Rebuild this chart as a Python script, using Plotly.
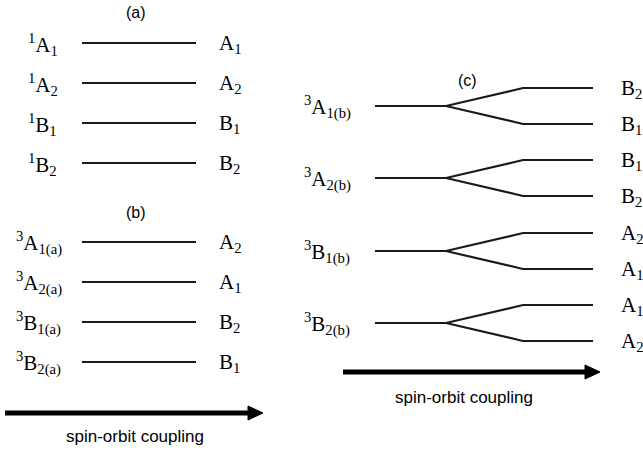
import plotly.graph_objects as go

# ---------------- data ----------------
panel_titles = ["(a)", "(b)", "(c)"]

a_left = ["<sup>1</sup>A<sub>1</sub>", "<sup>1</sup>A<sub>2</sub>",
          "<sup>1</sup>B<sub>1</sub>", "<sup>1</sup>B<sub>2</sub>"]
a_right = ["A<sub>1</sub>", "A<sub>2</sub>", "B<sub>1</sub>", "B<sub>2</sub>"]
a_levels = [43, 83, 123, 163]

b_left = ["<sup>3</sup>A<sub>1(a)</sub>", "<sup>3</sup>A<sub>2(a)</sub>",
          "<sup>3</sup>B<sub>1(a)</sub>", "<sup>3</sup>B<sub>2(a)</sub>"]
b_right = ["A<sub>2</sub>", "A<sub>1</sub>", "B<sub>2</sub>", "B<sub>1</sub>"]
b_levels = [242, 282, 322, 362]

c_left = ["<sup>3</sup>A<sub>1(b)</sub>", "<sup>3</sup>A<sub>2(b)</sub>",
          "<sup>3</sup>B<sub>1(b)</sub>", "<sup>3</sup>B<sub>2(b)</sub>"]
c_right = ["B<sub>2</sub>", "B<sub>1</sub>", "B<sub>1</sub>", "B<sub>2</sub>",
           "A<sub>2</sub>", "A<sub>1</sub>", "A<sub>1</sub>", "A<sub>2</sub>"]
c_levels = [106, 178, 251, 323]
c_split = 18

arrow_label = "spin-orbit coupling"

# ---------------- layout constants ----------------
W, H = 643, 452
LINE_COL = "#1a1a1a"
SERIF = "Liberation Serif, Times New Roman, serif"
SANS = "Liberation Sans, Arial, sans-serif"

fig = go.Figure()
ann = []


def hline(x0, x1, y, width=2.2):
    fig.add_trace(go.Scatter(x=[x0, x1], y=[y, y], mode="lines",
                             line=dict(color=LINE_COL, width=width),
                             hoverinfo="skip", showlegend=False))


def label(x, y, text, anchor, size=21, font=SERIF):
    ann.append(dict(x=x, y=y, text=text, showarrow=False, xanchor=anchor,
                    yanchor="middle", font=dict(family=font, size=size, color="black")))


def arrow(x0, x1, y):
    head = 15
    fig.add_trace(go.Scatter(x=[x0, x1 - head], y=[y, y], mode="lines",
                             line=dict(color="black", width=5),
                             hoverinfo="skip", showlegend=False))
    fig.add_trace(go.Scatter(x=[x1 - head, x1, x1 - head, x1 - head],
                             y=[y - 7, y, y + 7, y - 7], mode="lines",
                             fill="toself", fillcolor="black",
                             line=dict(color="black", width=1),
                             hoverinfo="skip", showlegend=False))


# panel (a)
label(136, 12, panel_titles[0], "center", 16, SANS)
for y, l, r in zip(a_levels, a_left, a_right):
    hline(82, 196, y)
    label(26, y + 1, l, "left")
    label(217, y + 1, r, "left")

# panel (b)
label(136, 212, panel_titles[1], "center", 16, SANS)
for y, l, r in zip(b_levels, b_left, b_right):
    hline(82, 196, y)
    label(14, y + 1, l, "left")
    label(217, y + 1, r, "left")
arrow(5, 263, 413)
label(135, 436, arrow_label, "center", 17, SANS)

# panel (c)
label(467, 80, panel_titles[2], "center", 16, SANS)
for i, (y, l) in enumerate(zip(c_levels, c_left)):
    up, dn = y - c_split, y + c_split
    fig.add_trace(go.Scatter(x=[375, 446, 523, 593], y=[y, y, up, up], mode="lines",
                             line=dict(color=LINE_COL, width=2.2),
                             hoverinfo="skip", showlegend=False))
    fig.add_trace(go.Scatter(x=[446, 523, 593], y=[y, dn, dn], mode="lines",
                             line=dict(color=LINE_COL, width=2.2),
                             hoverinfo="skip", showlegend=False))
    label(302, y + 1, l, "left")
    label(619, up + 1, c_right[2 * i], "left")
    label(619, dn + 1, c_right[2 * i + 1], "left")
arrow(343, 600, 372)
label(464, 397, arrow_label, "center", 17, SANS)

fig.update_layout(
    width=W, height=H,
    margin=dict(l=0, r=0, t=0, b=0),
    paper_bgcolor="white", plot_bgcolor="white",
    xaxis=dict(range=[0, W], visible=False, fixedrange=True),
    yaxis=dict(range=[H, 0], visible=False, fixedrange=True),
    annotations=ann,
    showlegend=False,
)

fig.write_html(
    "out.html",
    config={"displayModeBar": False},
    post_script="document.body.style.margin='0';document.body.style.overflow='hidden';",
)
